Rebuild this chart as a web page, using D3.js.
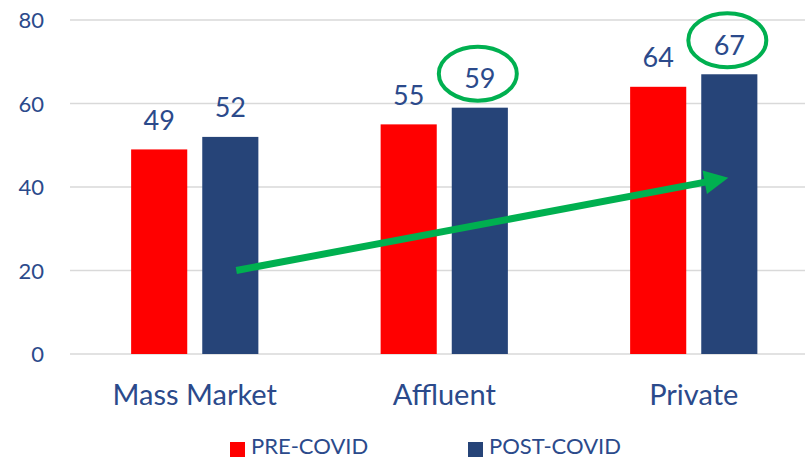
<!DOCTYPE html>
<html>
<head>
<meta charset="utf-8">
<script src="https://cdn.jsdelivr.net/npm/d3@7"></script>
<style>
  body { margin: 0; background: #fff; }
  text { font-family: Lato, "Open Sans", sans-serif; fill: #2B4A8B; }
</style>
</head>
<body>
<div class="chart"></div>
<script>
const categories = ['Mass Market', 'Affluent', 'Private'];
const seriesNames = ['PRE-COVID', 'POST-COVID'];
const preCovid = [49, 55, 64];
const postCovid = [52, 59, 67];
const yTicks = [0, 20, 40, 60, 80];
// highlighted POST-COVID values and the trend arrow (category, value)
const highlighted = ['Affluent', 'Private'];
const arrowFrom = ['Mass Market', 20];
const arrowTo = ['Private', 42.2];

const WIDTH = 805;
const HEIGHT = 460;
const COLORS = { 'PRE-COVID': '#FF0000', 'POST-COVID': '#264478' };
const GREEN = '#00B050';

var svg = d3.select('.chart').append('svg')
  .attr('width', WIDTH)
  .attr('height', HEIGHT);

var x0 = d3.scaleBand()
  .domain(categories)
  .range([70, 818.5])
  .paddingInner(0.49)
  .paddingOuter(0.245);

var x1 = d3.scaleBand()
  .domain(seriesNames)
  .range([0, x0.bandwidth()])
  .paddingInner(0.211);

var y = d3.scaleLinear()
  .domain([0, 80])
  .range([354, 20]);

var values = { 'PRE-COVID': preCovid, 'POST-COVID': postCovid };

// grid
svg.append('g')
  .selectAll('line')
  .data(yTicks)
  .join('line')
  .attr('x1', 70)
  .attr('x2', WIDTH)
  .attr('y1', d => y(d))
  .attr('y2', d => y(d))
  .attr('stroke', '#D9D9D9')
  .attr('stroke-width', 1.6);

// y axis labels
var yAxis = svg.append('g')
  .attr('transform', 'translate(44,0)')
  .call(d3.axisLeft(y).tickValues(yTicks).tickSize(0).tickPadding(0));
yAxis.select('.domain').remove();
yAxis.selectAll('text')
  .attr('font-size', 22)
  .attr('dy', '0.36em')
  .style('font-family', 'Lato, sans-serif')
  .attr('fill', '#2B4A8B');

// x axis labels
var xAxis = svg.append('g')
  .attr('transform', 'translate(0,' + y(0) + ')')
  .call(d3.axisBottom(x0).tickSize(0).tickPadding(30));
xAxis.select('.domain').remove();
xAxis.selectAll('text')
  .attr('font-size', 29)
  .attr('dy', '0.72em')
  .style('font-family', 'Lato, sans-serif')
  .attr('fill', '#2B4A8B');

// bars
var rows = [];
categories.forEach(function (c, i) {
  seriesNames.forEach(function (s) {
    rows.push({ cat: c, series: s, value: values[s][i] });
  });
});

var barGroup = svg.append('g');
barGroup.selectAll('rect')
  .data(rows)
  .join('rect')
  .attr('x', d => x0(d.cat) + x1(d.series))
  .attr('y', d => y(d.value))
  .attr('width', x1.bandwidth())
  .attr('height', d => y(0) - y(d.value))
  .attr('fill', d => COLORS[d.series]);

// value labels
svg.append('g')
  .selectAll('text')
  .data(rows)
  .join('text')
  .attr('x', d => x0(d.cat) + x1(d.series) + x1.bandwidth() / 2)
  .attr('y', d => y(d.value) - 19.5)
  .attr('text-anchor', 'middle')
  .attr('font-size', 27)
  .text(d => d.value);

// ellipses round highlighted values
function postCenter(cat) {
  return x0(cat) + x1('POST-COVID') + x1.bandwidth() / 2;
}
svg.append('g')
  .selectAll('ellipse')
  .data(highlighted)
  .join('ellipse')
  .attr('cx', d => postCenter(d) - 2)
  .attr('cy', d => y(postCovid[categories.indexOf(d)]) - 34)
  .attr('rx', 39)
  .attr('ry', 27)
  .attr('fill', 'none')
  .attr('stroke', GREEN)
  .attr('stroke-width', 4);

// trend arrow
var ax1 = postCenter(arrowFrom[0]) + 6, ay1 = y(arrowFrom[1]);
var ax2 = postCenter(arrowTo[0]) - 1, ay2 = y(arrowTo[1]);
var len = Math.hypot(ax2 - ax1, ay2 - ay1);
var ux = (ax2 - ax1) / len, uy = (ay2 - ay1) / len;
var headLen = 24, headHalf = 12;
var bx = ax2 - ux * headLen, by = ay2 - uy * headLen;

svg.append('line')
  .attr('x1', ax1)
  .attr('y1', ay1)
  .attr('x2', bx + ux * 2)
  .attr('y2', by + uy * 2)
  .attr('stroke', GREEN)
  .attr('stroke-width', 7);

svg.append('polygon')
  .attr('points', [
    [ax2, ay2],
    [bx - uy * headHalf, by + ux * headHalf],
    [bx + uy * headHalf, by - ux * headHalf]
  ].map(p => p.join(',')).join(' '))
  .attr('fill', GREEN);

// legend
var legend = svg.append('g')
  .selectAll('g')
  .data(seriesNames)
  .join('g')
  .attr('transform', (d, i) => 'translate(' + (230 + i * 238) + ',441)');

legend.append('rect')
  .attr('y', 1)
  .attr('width', 15)
  .attr('height', 15)
  .attr('fill', d => COLORS[d]);

legend.append('text')
  .attr('x', 21)
  .attr('y', 13)
  .attr('font-size', 22)
  .text(d => d);
</script>
</body>
</html>
